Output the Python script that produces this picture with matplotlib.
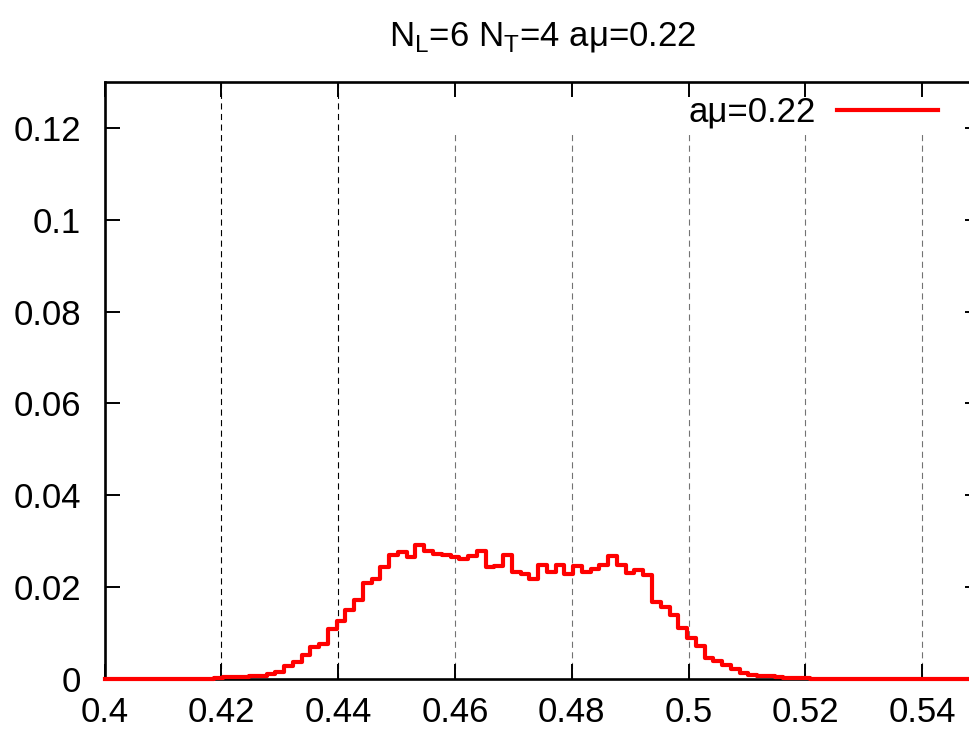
import numpy as np
import matplotlib
matplotlib.use("Agg")
import matplotlib.pyplot as plt

plt.rcParams['font.family'] = ['Liberation Sans', 'DejaVu Sans']
plt.rcParams['mathtext.fontset'] = 'custom'
plt.rcParams['mathtext.rm'] = 'Liberation Sans'

# histogram bin centres, 0.0015 apart starting at 0.4
bin_start = 0.4
bin_width = 0.0015
counts = [
    0, 0, 0, 0, 0, 0, 0, 0, 0, 0,
    0, 0, 0.0001, 0.0002, 0.0004, 0.0004, 0.0005, 0.0006, 0.0007, 0.0011,
    0.0016, 0.0028, 0.0036, 0.0052, 0.0069, 0.0076, 0.0108, 0.0127, 0.0150, 0.0172,
    0.0209, 0.0217, 0.0243, 0.0270, 0.0277, 0.0265, 0.0291, 0.0279, 0.0273, 0.0270,
    0.0265, 0.0261, 0.0267, 0.0279, 0.0244, 0.0245, 0.0269, 0.0232, 0.0228, 0.0217,
    0.0248, 0.0234, 0.0248, 0.0228, 0.0246, 0.0234, 0.0240, 0.0248, 0.0268, 0.0248,
    0.0230, 0.0238, 0.0226, 0.0168, 0.0156, 0.0139, 0.0110, 0.0089, 0.0072, 0.0045,
    0.0040, 0.0030, 0.0022, 0.0012, 0.0009, 0.0007, 0.0006, 0.0005, 0.0003, 0.0002,
    0.0002, 0.0001, 0, 0, 0, 0, 0, 0, 0, 0,
    0, 0, 0, 0, 0, 0, 0, 0, 0, 0,
]
x = bin_start + bin_width * np.arange(len(counts))

xticks = [0.4, 0.42, 0.44, 0.46, 0.48, 0.5, 0.52, 0.54]
xlabels = ['0.4', '0.42', '0.44', '0.46', '0.48', '0.5', '0.52', '0.54']
yticks = [0, 0.02, 0.04, 0.06, 0.08, 0.1, 0.12]
ylabels = ['0', '0.02', '0.04', '0.06', '0.08', '0.1', '0.12']

# grid lines: the first two run to the top, the rest stop under the key
grid_full = [0.42, 0.44]
grid_short = [0.46, 0.48, 0.5, 0.52, 0.54]

fig = plt.figure(figsize=(9.7, 7.31), dpi=100)
ax = fig.add_axes([104.5 / 970, 52 / 731, 876 / 970, 597 / 731])

ax.vlines(grid_full, 0, 0.13, colors='black', linewidth=0.8,
          linestyles=(0, (5.5, 4)), zorder=1)
ax.vlines(grid_short, 0, 0.1187, colors='0.45', linewidth=0.8,
          linestyles=(0, (5.5, 4)), zorder=1)

ax.step(x, counts, where='mid', color='#ff0000', linewidth=3.0,
        label='a\u03bc=0.22', zorder=3, clip_on=False)

ax.set_xlim(0.4, 0.55)
ax.set_ylim(0, 0.13)
ax.set_xticks(xticks)
ax.set_xticklabels(xlabels)
ax.set_yticks(yticks)
ax.set_yticklabels(ylabels)

ax.tick_params(direction='in', length=10.8, width=1.4, labelsize=25,
               top=True, right=True)
ax.tick_params(axis='x', pad=12)
ax.tick_params(axis='y', pad=17)
for s in ax.spines.values():
    s.set_linewidth(1.9)

ax.set_title('N$_\\mathregular{L}$=6 N$_\\mathregular{T}$=4 a\u03bc=0.22',
             fontsize=25, pad=26)

ax.legend(loc='upper right', bbox_to_anchor=(938 / 970, (731 - 96) / 731),
          bbox_transform=fig.transFigure, frameon=False, fontsize=25,
          markerfirst=False, handlelength=2.9, handletextpad=0.62,
          borderpad=0, borderaxespad=0)

fig.savefig('out.png', dpi=100)
